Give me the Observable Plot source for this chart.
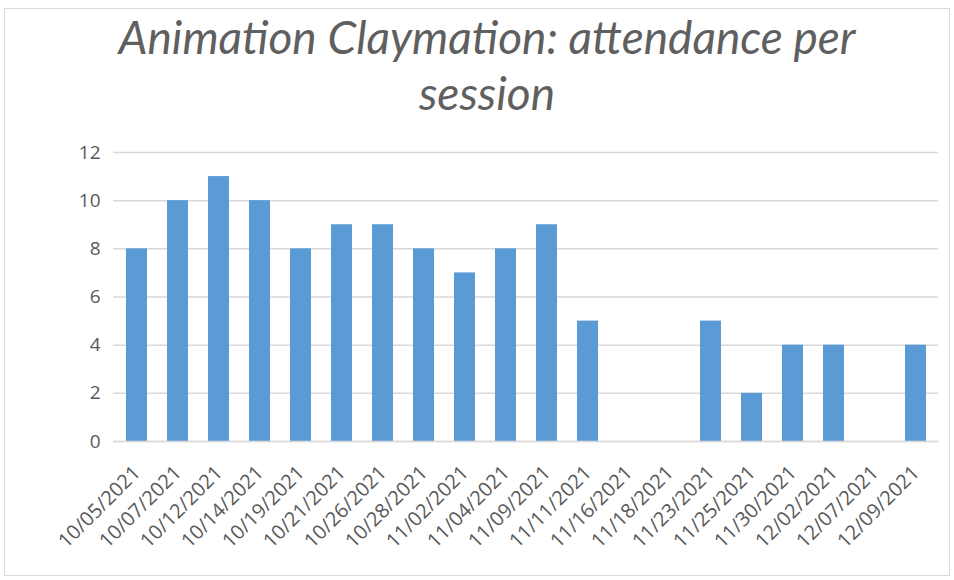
<!DOCTYPE html>
<html>
<head>
<meta charset="utf-8">
<script src="https://cdn.jsdelivr.net/npm/d3@7"></script>
<script src="https://cdn.jsdelivr.net/npm/@observablehq/plot@0.6"></script>
<style>
  html, body { margin: 0; padding: 0; background: #fff; }
  #wrap { position: relative; width: 954px; height: 580px; overflow: hidden; }
  #frame { position: absolute; left: 4px; top: 8px; width: 946px; height: 568px; border: 1px solid #d9d9d9; box-sizing: border-box; pointer-events: none; }
  #title { position: absolute; left: 0; top: 9px; width: 974px; text-align: center; font-family: Lato, "Open Sans", sans-serif; font-style: italic; font-weight: 400; font-size: 46px; line-height: 56px; color: #5f5f5f; }
  #chart { position: absolute; left: 0; top: 140px; }
  #chart svg g[aria-label="x-axis tick label"] text { font-size: 20px; }
</style>
</head>
<body>
<div id="wrap">
  <div id="frame"></div>
  <div id="title">Animation Claymation: attendance per<br>session</div>
  <div id="chart"></div>
</div>
<script>
const dates = ["10/05/2021","10/07/2021","10/12/2021","10/14/2021","10/19/2021","10/21/2021","10/26/2021","10/28/2021","11/02/2021","11/04/2021","11/09/2021","11/11/2021","11/16/2021","11/18/2021","11/23/2021","11/25/2021","11/30/2021","12/02/2021","12/07/2021","12/09/2021"];
const attendance = [8,10,11,10,8,9,9,8,7,8,9,5,null,null,5,2,4,4,null,4];
const yTicks = [0,2,4,6,8,10,12];

const data = dates.map((d, i) => ({date: d, value: attendance[i]}));

const chart = Plot.plot({
  width: 954,
  height: 440,
  marginTop: 12,
  marginBottom: 139,
  marginLeft: 113,
  marginRight: 16,
  style: {fontFamily: "'Open Sans', sans-serif", fontSize: "19px", color: "#595959", background: "transparent"},
  x: {domain: dates, paddingInner: 0.5, paddingOuter: 0.25, label: null, tickSize: 0, tickRotate: -45, tickPadding: 28},
  y: {domain: [0, 12], ticks: yTicks, label: null, tickSize: 0, tickPadding: 13},
  marks: [
    Plot.gridY(yTicks, {stroke: "#d9d9d9", strokeOpacity: 1, strokeWidth: 1.5}),
    Plot.barY(data.filter(d => d.value != null), {x: "date", y: "value", fill: "#5b9bd5"}),
    Plot.ruleY([0], {stroke: "#d9d9d9", strokeWidth: 1.5})
  ]
});
document.getElementById("chart").appendChild(chart);
</script>
</body>
</html>
